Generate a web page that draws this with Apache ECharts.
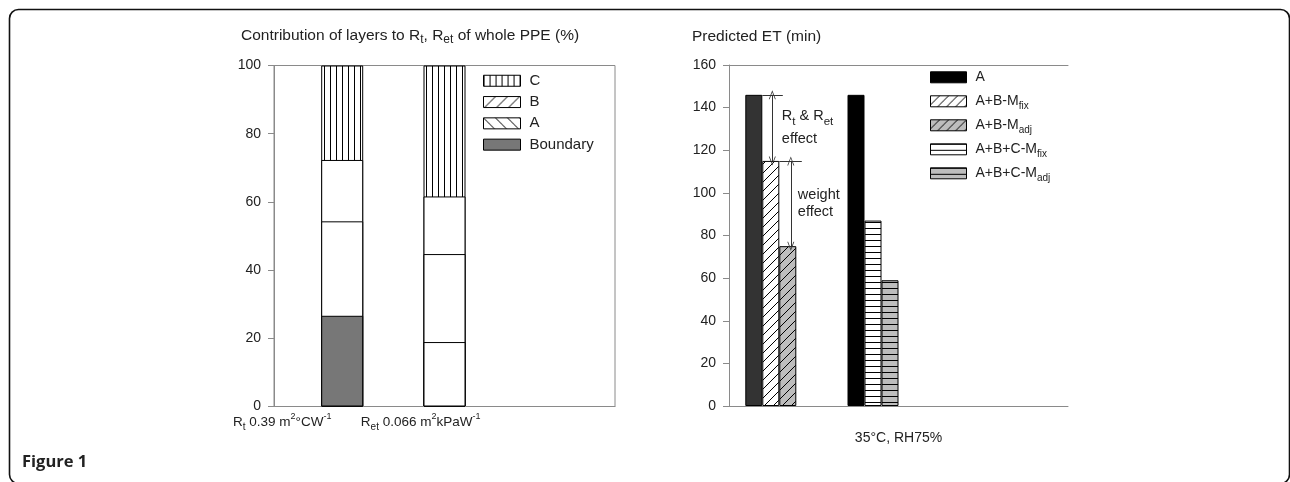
<!DOCTYPE html>
<html><head><meta charset="utf-8">
<script src="https://cdn.jsdelivr.net/npm/echarts@6/dist/echarts.min.js"></script>
<style>html,body{margin:0;padding:0;background:#fff}#c{width:1290px;height:482px}</style>
</head><body><div id="c"></div>
<script>
// ---------------- data ----------------
// Left panel: contribution of layers (%)
const leftCategories = ['R{sub|t} 0.39 m{sup|2}°CW{sup|-1}', 'R{sub|et} 0.066 m{sup|2}kPaW{sup|-1}'];
const boundaryVals = [26.6, 18.9];
const layerAVals   = [27.7, 25.8];
const layerBVals   = [18.0, 16.9];
const layerCVals   = [27.7, 38.4];
const leftLegendNames = ['C', 'B', 'A', 'Boundary'];

// Right panel: predicted ET (min)
const rightCategory = '35°C, RH75%';
const etA        = [146, 146];
const etABMfix   = [115, null];
const etABMadj   = [75, null];
const etABCMfix  = [null, 87];
const etABCMadj  = [null, 59];
const rightSeriesNames = ['A', 'A+B-Mfix', 'A+B-Madj', 'A+B+C-Mfix', 'A+B+C-Madj'];
const rightLegendLabels = ['A', 'A+B-M{sub|fix}', 'A+B-M{sub|adj}', 'A+B+C-M{sub|fix}', 'A+B+C-M{sub|adj}'];

// ---------------- layout (not data) ----------------
const FONT = '"Liberation Sans", Arial, sans-serif';
const NARROW = '"Liberation Sans Narrow", "Arial Narrow", "Liberation Sans", sans-serif';
const L = {left: 274, top: 65.5, width: 341, height: 341};
const R = {left: 729, top: 65, width: 339, height: 341};
const leftPos = [2, 5];            // bar centres on a 0..10 hidden scale
const leftLabelPos = [0.24, 4.3];  // label centres on the same scale
const rightGroupPos = [1.233, 4.248];
const uR = 10 / R.width;           // data units per pixel (right)
const bwL = 42, bwR = 17;
const openArrow = 'path://M5,0 L10,12 L8.8,12 L5,2.6 L1.2,12 L0,12 Z';

// ---------------- patterns ----------------
function pat(bg, size, draw) {
  const c = document.createElement('canvas');
  c.width = size; c.height = size;
  const g = c.getContext('2d');
  g.fillStyle = bg; g.fillRect(0, 0, size, size);
  g.strokeStyle = '#000'; g.lineWidth = 1;
  g.beginPath(); draw(g, size); g.stroke();
  return {image: c, repeat: 'repeat'};
}
const vert = (g, s) => { g.moveTo(0.5, 0); g.lineTo(0.5, s); };
const hor = (g, s) => { g.moveTo(0, 0.5); g.lineTo(s, 0.5); };
const slash = (g, s) => { g.moveTo(0, s); g.lineTo(s, 0); g.moveTo(-1, 1); g.lineTo(1, -1); g.moveTo(s - 1, s + 1); g.lineTo(s + 1, s - 1); };
const back = (g, s) => { g.moveTo(0, 0); g.lineTo(s, s); g.moveTo(-1, s - 1); g.lineTo(1, s + 1); g.moveTo(s - 1, -1); g.lineTo(s + 1, 1); };
const patC = pat('#fff', 6, vert);
const patBL = pat('#fff', 12, slash);
const patAL = pat('#fff', 12, back);
const patSlashW = pat('#fff', 9, slash);
const patSlashG = pat('#bdbdbd', 9, slash);
const patHorW = pat('#fff', 6, hor);
const patHorG = pat('#bdbdbd', 6, hor);

const mkRich = (fam, subSize, supSize) => ({
  sub: {fontSize: subSize, fontFamily: fam, color: '#222', verticalAlign: 'bottom', lineHeight: 12},
  sup: {fontSize: supSize, fontFamily: fam, color: '#222', verticalAlign: 'top', lineHeight: 12}
});
const rich = mkRich(FONT, 10, 9);

// ---------------- build series ----------------
// left: overlapping cumulative bars (upper layers drawn first, lower ones on top)
const cumBoundary = boundaryVals.slice();
const cumA = boundaryVals.map((v, i) => v + layerAVals[i]);
const cumB = cumA.map((v, i) => v + layerBVals[i]);
const cumC = cumB.map((v, i) => v + layerCVals[i]);
function leftSeries(name, vals, color, perItem) {
  return {
    name, type: 'bar', xAxisIndex: 0, yAxisIndex: 0, barWidth: bwL, barGap: '-100%',
    itemStyle: {color, borderColor: '#000', borderWidth: 1},
    data: vals.map((v, i) => {
      const d = {value: [leftPos[i], v]};
      if (perItem && perItem[i]) d.itemStyle = {color: perItem[i]};
      return d;
    }),
    emphasis: {disabled: true}, animation: false
  };
}
const series = [
  leftSeries('C', cumC, patC),
  leftSeries('B', cumB, '#fff'),
  leftSeries('A', cumA, '#fff'),
  leftSeries('Boundary', cumBoundary, '#777', [null, '#fff'])
];

function rightSeries(name, vals, slot, color, perItem) {
  const data = [];
  vals.forEach((v, i) => {
    if (v == null) return;
    const d = {value: [rightGroupPos[i] + (slot - 1) * bwR * uR, v]};
    if (perItem && perItem[i]) d.itemStyle = {color: perItem[i]};
    data.push(d);
  });
  return {
    name, type: 'bar', xAxisIndex: 1, yAxisIndex: 1, barWidth: bwR, barGap: '-100%',
    itemStyle: {color, borderColor: '#000', borderWidth: 1},
    data, emphasis: {disabled: true}, animation: false
  };
}
const g1 = rightGroupPos[0];
const sA = rightSeries('A', etA, 0, '#000', ['#333', '#000']);
const lineStyle = {color: '#333', width: 1, type: 'solid'};
sA.markLine = {
  silent: true, animation: false, symbolSize: [7, 9], lineStyle, label: {show: false},
  data: [
    [{coord: [g1 - 8.5 * uR, etA[0]], symbol: 'none'}, {coord: [g1 + 12 * uR, etA[0]], symbol: 'none'}],
    [{coord: [g1 + 1.5 * uR, etA[0]], symbol: openArrow}, {coord: [g1 + 1.5 * uR, etABMfix[0]], symbol: openArrow}],
    [{coord: [g1 + 8.5 * uR, etABMfix[0]], symbol: 'none'}, {coord: [g1 + 31 * uR, etABMfix[0]], symbol: 'none'}],
    [{coord: [g1 + 20 * uR, etABMfix[0]], symbol: openArrow}, {coord: [g1 + 20 * uR, etABMadj[0]], symbol: openArrow}]
  ]
};
const annLabel = (txt, lh) => ({show: true, position: 'right', distance: 0, align: 'left',
  formatter: () => txt, fontSize: 14.5, fontFamily: FONT, color: '#222', lineHeight: lh, rich: mkRich(FONT, 11.5, 10)});
sA.markPoint = {
  silent: true, animation: false, symbol: 'circle', symbolSize: 0.1,
  itemStyle: {color: 'rgba(0,0,0,0)'},
  data: [
    {coord: [g1 + 11 * uR, (etA[0] + etABMfix[0]) / 2], label: annLabel('R{sub|t} & R{sub|et}\neffect', 23)},
    {coord: [g1 + 27 * uR, (etABMfix[0] + etABMadj[0]) / 2], label: annLabel('weight\neffect', 17)}
  ]
};
series.push(sA,
  rightSeries('A+B-Mfix', etABMfix, 1, patSlashW),
  rightSeries('A+B+C-Mfix', etABCMfix, 1, patHorW),
  rightSeries('A+B-Madj', etABMadj, 2, patSlashG),
  rightSeries('A+B+C-Madj', etABCMadj, 2, patHorG)
);

const axisGray = '#8a8a8a';
const yAxisCommon = {
  type: 'value', splitLine: {show: false},
  axisLine: {show: true, lineStyle: {color: axisGray}},
  axisTick: {show: true, length: 6, lineStyle: {color: axisGray}},
  axisLabel: {fontSize: 14, fontFamily: FONT, color: '#222', margin: 13}
};

const legendColorsL = {C: patC, B: patBL, A: patAL, Boundary: '#777'};
const legendColorsR = ['#000', patSlashW, patSlashG, patHorW, patHorG];

const option = {
  backgroundColor: '#fff',
  animation: false,
  title: [
    {text: 'Contribution of layers to R{sub|t}, R{sub|et} of whole PPE (%)', left: 241, top: 26, padding: 0,
     textStyle: {fontSize: 15.5, fontWeight: 'normal', fontFamily: FONT, color: '#222', lineHeight: 20, rich: mkRich(FONT, 12, 10)}},
    {text: 'Predicted ET (min)', left: 692, top: 27, padding: 0,
     textStyle: {fontSize: 15.5, fontWeight: 'normal', fontFamily: FONT, color: '#222', lineHeight: 20}}
  ],
  grid: [
    {left: L.left, top: L.top, width: L.width, height: L.height, show: true, borderColor: axisGray, borderWidth: 1, backgroundColor: 'transparent'},
    {left: R.left, top: R.top, width: R.width, height: R.height}
  ],
  xAxis: [
    {gridIndex: 0, type: 'value', min: 0, max: 10, splitLine: {show: false},
     axisLine: {show: true, lineStyle: {color: axisGray}}, axisTick: {show: false}, axisLabel: {show: false}},
    {gridIndex: 1, type: 'value', min: 0, max: 10, splitLine: {show: false},
     axisLine: {show: true, lineStyle: {color: axisGray}}, axisTick: {show: false}, axisLabel: {show: false},
     name: rightCategory, nameLocation: 'middle', nameGap: 25,
     nameTextStyle: {fontSize: 14, fontFamily: FONT, color: '#222'}},
    {gridIndex: 1, type: 'value', position: 'top', min: 0, max: 10, splitLine: {show: false},
     axisLine: {show: true, onZero: false, lineStyle: {color: axisGray}}, axisTick: {show: false}, axisLabel: {show: false}}
  ],
  yAxis: [
    Object.assign({gridIndex: 0, min: 0, max: 100, interval: 20}, yAxisCommon),
    Object.assign({gridIndex: 1, min: 0, max: 160, interval: 20}, yAxisCommon)
  ],
  legend: [
    {orient: 'vertical', left: 483, top: 72.5, padding: 0, itemWidth: 37, itemHeight: 11, itemGap: 4.8,
     icon: 'rect', selectedMode: false,
     itemStyle: {borderColor: '#000', borderWidth: 1},
     textStyle: {fontSize: 15, fontFamily: FONT, color: '#222', lineHeight: 16.5, padding: [0, 0, 0, 4]},
     data: leftLegendNames.map(n => ({name: n, itemStyle: {color: legendColorsL[n], borderColor: '#000', borderWidth: 1}}))},
    {orient: 'vertical', left: 930, top: 67.3, padding: 0, itemWidth: 36, itemHeight: 11, itemGap: 4,
     icon: 'rect', selectedMode: false,
     itemStyle: {borderColor: '#000', borderWidth: 1},
     formatter: (n) => rightLegendLabels[rightSeriesNames.indexOf(n)],
     textStyle: {fontSize: 14, fontFamily: FONT, color: '#222', lineHeight: 20, padding: [0, 0, 0, 4], rich},
     data: rightSeriesNames.map((n, i) => ({name: n, itemStyle: {color: legendColorsR[i], borderColor: '#000', borderWidth: 1}}))}
  ],
  graphic: [
    {type: 'rect', silent: true, shape: {x: 9.5, y: 9.5, width: 1280, height: 474, r: 9},
     style: {fill: 'none', stroke: '#111', lineWidth: 1.6}},
    {type: 'text', silent: true, x: 22, y: 462,
     style: {text: 'Figure 1', fontSize: 16.5, fontWeight: 'bold', fontFamily: '"Open Sans", sans-serif', fill: '#222', verticalAlign: 'middle'}}
  ],
  series
};

const chart = echarts.init(document.getElementById('c'), null, {renderer: 'canvas'});
chart.setOption(option);

// category labels under the left panel, placed through the axis scale
const labelEls = leftCategories.map((txt, i) => {
  const p = chart.convertToPixel({xAxisIndex: 0, yAxisIndex: 0}, [leftLabelPos[i], 0]);
  return {type: 'text', silent: true, x: p[0], y: p[1] + 16,
    style: {text: txt, fontSize: 13.5, fontFamily: NARROW, fill: '#222', align: 'center', verticalAlign: 'middle',
      lineHeight: 20, rich: mkRich(NARROW, 10, 9)}};
});
chart.setOption({graphic: option.graphic.concat(labelEls)});
</script>
</body></html>
